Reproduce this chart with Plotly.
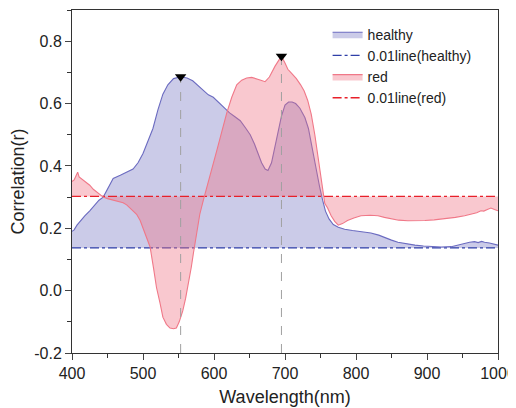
import plotly.graph_objects as go

healthy_wl = [400,403,407,412,418,425,432,438,444,450,458,468,478,486,493,500,507,514,521,528,535,543,553,562,570,578,585,592,599,608,615,622,630,637,645,651,657,662,667,672,676,681,686,690,695,700,705,710,715,721,728,733,737,741,745,749,753,757,762,768,775,784,795,808,821,832,840,850,859,870,883,895,906,920,934,942,950,960,967,972,977,981,988,995,1000]
healthy_r = [0.19,0.195,0.21,0.225,0.24,0.256,0.275,0.29,0.30,0.325,0.36,0.37,0.38,0.39,0.41,0.44,0.48,0.52,0.58,0.63,0.66,0.68,0.686,0.682,0.673,0.657,0.64,0.628,0.62,0.60,0.585,0.57,0.557,0.545,0.52,0.50,0.47,0.44,0.41,0.39,0.385,0.41,0.46,0.50,0.56,0.595,0.605,0.605,0.60,0.585,0.555,0.52,0.47,0.42,0.37,0.33,0.29,0.255,0.23,0.212,0.203,0.197,0.193,0.19,0.185,0.178,0.17,0.162,0.155,0.15,0.146,0.143,0.141,0.140,0.141,0.146,0.151,0.155,0.157,0.154,0.158,0.155,0.153,0.149,0.146]

red_wl = [400,403,406,408,410,413,415,418,421,425,430,435,440,444,450,458,465,472,477,482,487,491,496,500,505,510,515,519,524,528,533,538,543,547,551,556,560,564,568,571,575,580,585,590,597,604,611,618,625,632,639,646,653,660,666,672,678,686,691,695,700,704,710,716,722,727,732,737,742,746,751,756,760,765,770,775,781,788,797,807,820,831,840,849,860,873,885,897,910,925,940,953,965,970,976,980,985,990,995,1000]
red_r = [0.35,0.355,0.37,0.38,0.365,0.36,0.355,0.35,0.345,0.338,0.325,0.315,0.305,0.30,0.295,0.29,0.287,0.282,0.275,0.265,0.252,0.245,0.225,0.20,0.175,0.14,0.07,0.01,-0.04,-0.085,-0.108,-0.12,-0.122,-0.12,-0.10,-0.065,-0.025,0.02,0.075,0.12,0.18,0.245,0.29,0.33,0.39,0.45,0.51,0.57,0.62,0.66,0.675,0.682,0.684,0.68,0.675,0.67,0.685,0.72,0.74,0.752,0.73,0.71,0.695,0.68,0.66,0.64,0.61,0.565,0.50,0.44,0.36,0.28,0.265,0.24,0.222,0.21,0.215,0.225,0.233,0.24,0.242,0.24,0.235,0.23,0.226,0.224,0.224,0.225,0.227,0.23,0.235,0.24,0.247,0.25,0.256,0.255,0.26,0.265,0.26,0.256]

threshold_healthy = 0.137
threshold_red = 0.302
line_range = [400, 1000]

peak_wl = [553, 695]
peak_r = [0.686, 0.752]

x_ticks = [400, 500, 600, 700, 800, 900, 1000]
y_ticks = [-0.2, 0.0, 0.2, 0.4, 0.6, 0.8]
y_labels = ["-0.2", "0.0", "0.2", "0.4", "0.6", "0.8"]

FONT = "Arial, Liberation Sans, Arimo, sans-serif"

fig = go.Figure()

fig.add_trace(go.Scatter(x=line_range, y=[threshold_healthy]*2, mode="lines",
                         name="0.01line(healthy)", legendrank=2,
                         line=dict(color="#2f3fa8", width=1.3, dash="dashdot")))
fig.add_trace(go.Scatter(x=healthy_wl, y=healthy_r, mode="lines", name="healthy",
                         legendrank=1, fill="tonexty",
                         fillcolor="rgba(130,130,200,0.42)",
                         line=dict(color="#6b6bc0", width=1.1)))
fig.add_trace(go.Scatter(x=line_range, y=[threshold_red]*2, mode="lines",
                         name="0.01line(red)", legendrank=4,
                         line=dict(color="#e8202a", width=1.3, dash="dashdot")))
fig.add_trace(go.Scatter(x=red_wl, y=red_r, mode="lines", name="red",
                         legendrank=3, fill="tonexty",
                         fillcolor="rgba(240,110,130,0.38)",
                         line=dict(color="#f07888", width=1.1)))

for wl, r in zip(peak_wl, peak_r):
    fig.add_trace(go.Scatter(x=[wl, wl], y=[-0.2, r], mode="lines", showlegend=False,
                             line=dict(color="#a0a0a0", width=1, dash="dash")))
fig.add_trace(go.Scatter(x=peak_wl, y=peak_r, mode="markers", showlegend=False,
                         marker=dict(symbol="triangle-down", size=10, color="black")))

fig.update_layout(
    width=508, height=400,
    margin=dict(l=64, r=18, t=2, b=55, autoexpand=False),
    paper_bgcolor="white", plot_bgcolor="white",
    font=dict(family=FONT, color="#222222", size=16),
    legend=dict(x=0.6, y=0.975, xanchor="left", yanchor="top",
                traceorder="normal",
                bgcolor="rgba(0,0,0,0)", font=dict(size=14),
                tracegroupgap=0, itemwidth=30),
)
fig.update_xaxes(range=[400, 1000], tickvals=x_ticks, ticks="outside", ticklen=6,
                 automargin=False,
                 showline=True, linecolor="#333", linewidth=1, mirror=True,
                 showgrid=False, zeroline=False,
                 minor=dict(dtick=50, ticks="outside", ticklen=4, tickcolor="#333"),
                 title=dict(text="Wavelength(nm)", font=dict(size=18), standoff=9),
                 tickfont=dict(size=16))
fig.update_yaxes(range=[-0.2, 0.9], tickvals=y_ticks, ticktext=y_labels,
                 ticks="outside", ticklen=6, automargin=False,
                 showline=True, linecolor="#333", linewidth=1, mirror=True,
                 showgrid=False, zeroline=False,
                 minor=dict(dtick=0.1, ticks="outside", ticklen=4, tickcolor="#333"),
                 title=dict(text="Correlation(r)", font=dict(size=18), standoff=4),
                 tickfont=dict(size=16))

fig.write_html("out.html")
